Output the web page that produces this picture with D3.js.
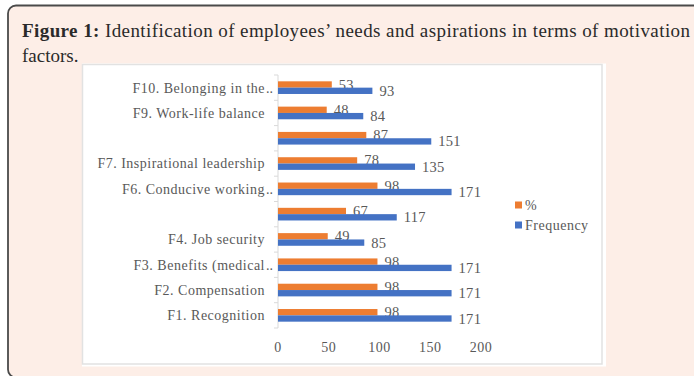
<!DOCTYPE html>
<html>
<head>
<meta charset="utf-8">
<script src="https://cdn.jsdelivr.net/npm/d3@7"></script>
<style>
  body { margin: 0; background: #fff; }
  svg { display: block; }
</style>
</head>
<body>
<svg id="chart" width="694" height="376"></svg>
<script>
"use strict";

// data, bottom (F1) to top (F10); F5 and F8 have no visible label
var categories = ["F1. Recognition", "F2. Compensation", "F3. Benefits (medical", "F4. Job security", "",
                  "F6. Conducive working", "F7. Inspirational leadership", "", "F9. Work-life balance", "F10. Belonging in the"];
var truncated = [false, false, true, false, false, true, false, false, false, true];
var percent = [98, 98, 98, 49, 67, 98, 78, 87, 48, 53];
var frequency = [171, 171, 171, 85, 117, 171, 135, 151, 84, 93];
var seriesNames = ["%", "Frequency"];
var seriesColors = ["#ed7d31", "#4472c4"];
var xTicks = [0, 50, 100, 150, 200];

(function(){
    var svg = d3.select("#chart"),
        serif = "'Liberation Serif', 'Times New Roman', serif",
        grey = "#595959";

    // page panel
    svg.append("rect")
        .attr("x", 0).attr("y", 0).attr("width", 694).attr("height", 376)
        .attr("fill", "#fff");
    svg.append("rect")
        .attr("x", 8).attr("y", 5.5).attr("width", 720).attr("height", 372)
        .attr("rx", 8)
        .attr("fill", "#fdeee7")
        .attr("stroke", "#4a4a4a")
        .attr("stroke-width", 1.8);

    // caption
    var cap = svg.append("text")
        .attr("x", 22).attr("y", 37)
        .attr("font-family", serif)
        .attr("font-size", 19)
        .attr("fill", "#2a2a2a")
        .attr("textLength", 668)
        .attr("lengthAdjust", "spacing");
    cap.append("tspan").attr("font-weight", "bold").text("Figure 1:");
    cap.append("tspan").text(" Identification of employees\u2019 needs and aspirations in terms of motivation");
    svg.append("text")
        .attr("x", 22).attr("y", 62)
        .attr("font-family", serif)
        .attr("font-size", 19)
        .attr("fill", "#2a2a2a")
        .text("factors.");

    // chart box
    svg.append("rect")
        .attr("x", 82).attr("y", 63.5).attr("width", 524).attr("height", 303)
        .attr("fill", "#fff");
    svg.append("rect")
        .attr("x", 82.5).attr("y", 64.5).attr("width", 519.5).attr("height", 299.5)
        .attr("fill", "none")
        .attr("stroke", "#e2e2e2")
        .attr("stroke-width", 1.5);

    var idx = d3.range(categories.length);

    var x = d3.scaleLinear().domain([0, 200]).range([278, 481]);
    var y = d3.scaleBand().domain(idx.slice().reverse()).range([75, 328]).padding(0);
    var sub = d3.scaleBand().domain([0, 1]).range([0, y.bandwidth()]).paddingInner(0).paddingOuter(1);

    var series = [percent, frequency];

    // y axis line with ticks between categories
    var yAxis = svg.append("g");
    yAxis.append("line")
        .attr("x1", x(0)).attr("x2", x(0))
        .attr("y1", y.range()[0]).attr("y2", y.range()[1])
        .attr("stroke", "#d9d9d9");
    yAxis.selectAll("line.tick")
        .data(d3.range(categories.length + 1))
        .enter()
        .append("line")
        .attr("class", "tick")
        .attr("x1", x(0) - 4).attr("x2", x(0))
        .attr("y1", function(i){ return y.range()[0] + i * y.step(); })
        .attr("y2", function(i){ return y.range()[0] + i * y.step(); })
        .attr("stroke", "#d9d9d9");

    // category labels
    var labels = svg.append("g")
        .selectAll("g")
        .data(idx)
        .enter()
        .append("g");
    labels.append("text")
        .attr("x", 265)
        .attr("y", function(i){ return y(i) + y.bandwidth() / 2; })
        .attr("dy", ".35em")
        .attr("text-anchor", "end")
        .attr("font-family", serif)
        .attr("font-size", 14)
        .attr("letter-spacing", 0.5)
        .attr("fill", grey)
        .text(function(i){ return categories[i]; });
    labels.filter(function(i){ return truncated[i]; })
        .append("text")
        .attr("x", 266)
        .attr("y", function(i){ return y(i) + y.bandwidth() / 2; })
        .attr("dy", ".35em")
        .attr("font-family", serif)
        .attr("font-size", 14)
        .attr("fill", grey)
        .text("..");

    // bars + data labels
    series.forEach(function(vals, s){
        var g = svg.append("g");
        g.selectAll("rect")
            .data(idx)
            .enter()
            .append("rect")
            .attr("x", x(0))
            .attr("y", function(i){ return y(i) + sub(s); })
            .attr("width", function(i){ return x(vals[i]) - x(0); })
            .attr("height", sub.bandwidth())
            .attr("fill", seriesColors[s]);
        g.selectAll("text")
            .data(idx)
            .enter()
            .append("text")
            .attr("x", function(i){ return x(vals[i]) + 7; })
            .attr("y", function(i){ return y(i) + sub(s) + sub.bandwidth() / 2; })
            .attr("dy", ".35em")
            .attr("font-family", serif)
            .attr("font-size", 14.5)
            .attr("letter-spacing", 0.3)
            .attr("fill", grey)
            .text(function(i){ return vals[i]; });
    });

    // x tick labels, no axis line
    svg.append("g")
        .selectAll("text")
        .data(xTicks)
        .enter()
        .append("text")
        .attr("x", function(d){ return x(d); })
        .attr("y", 347)
        .attr("dy", ".35em")
        .attr("text-anchor", "middle")
        .attr("font-family", serif)
        .attr("font-size", 14)
        .attr("letter-spacing", 0.5)
        .attr("fill", grey)
        .text(function(d){ return d; });

    // legend
    var legend = svg.append("g")
        .selectAll("g")
        .data(seriesNames)
        .enter()
        .append("g")
        .attr("transform", function(d, i){ return "translate(515," + (205 + i * 20) + ")"; });
    legend.append("rect")
        .attr("x", 0).attr("y", -3.5)
        .attr("width", 7).attr("height", 7)
        .attr("fill", function(d, i){ return seriesColors[i]; });
    legend.append("text")
        .attr("x", 10)
        .attr("dy", ".35em")
        .attr("font-family", serif)
        .attr("font-size", 14)
        .attr("letter-spacing", 0.5)
        .attr("fill", grey)
        .text(function(d){ return d; });
})();
</script>
</body>
</html>
